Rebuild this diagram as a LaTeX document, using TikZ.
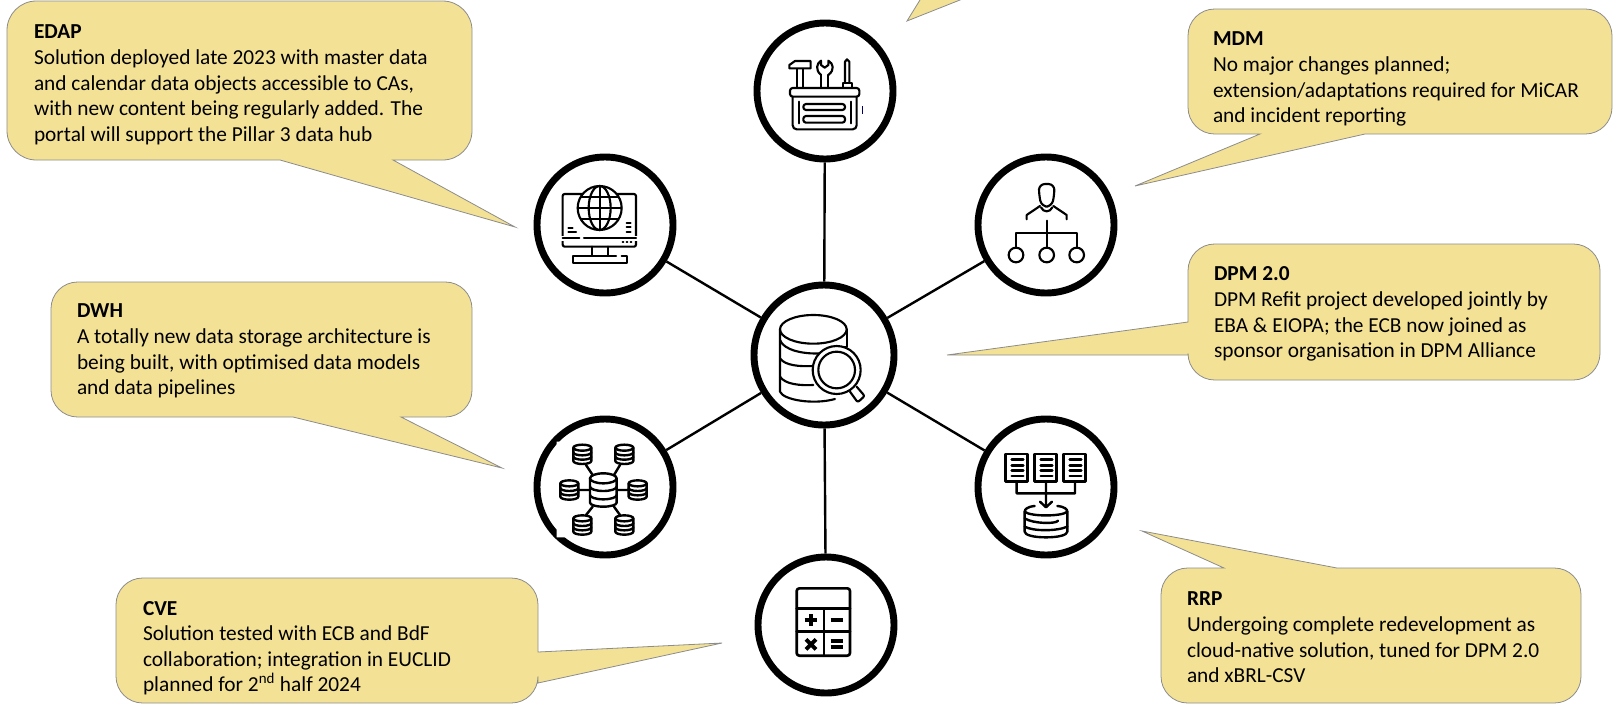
\documentclass[tikz,border=0pt]{standalone}
\usepackage{fontspec}
\setmainfont{Carlito}
\tikzset{
  callout/.style={fill=calloutfill,draw=calloutedge,line width=.6pt},
  note/.style={anchor=north west,inner sep=0pt,outer sep=0pt,align=left,font=\fontsize{16}{19.2}\selectfont,text=black},
  ring/.style={circle,draw=black,fill=white,line width=5.2pt,minimum size=102pt,inner sep=0pt},
  hubring/.style={ring,minimum size=105pt},
  spoke/.style={draw=black,line width=1.8pt},
  ico/.style={draw=black,line width=1.6pt,line cap=round,line join=round},
  icothick/.style={draw=black,line width=1.8pt,line cap=round,line join=round},
  icofat/.style={draw=black,line width=3pt,line cap=butt},
}
\definecolor{calloutfill}{HTML}{F3E196}
\definecolor{calloutedge}{HTML}{8C8C8C}
\newcommand{\minicyl}[2]{%
  \begin{scope}[shift={(#1,#2)}]
    \draw[icothick,fill=white] (-27,-20) -- (-27,20) arc[start angle=180,end angle=0,x radius=27,y radius=9] -- (27,-20);
    \draw[icothick] (0,-20) ellipse[x radius=27,y radius=9];
    \draw[icothick] (-27,-6) arc[start angle=180,end angle=0,x radius=27,y radius=9];
    \draw[icothick] (-27,7) arc[start angle=180,end angle=0,x radius=27,y radius=9];
  \end{scope}}
\begin{document}
\begin{tikzpicture}[x=.75pt,y=-.75pt]
\useasboundingbox (0,0) rectangle (1613,704);
% callouts
\draw[callout] (907,21) -- (921.2,-2) -- (965,-2) -- cycle;
\draw[callout] (280,160) [rounded corners=22pt] -- (7,160) -- (7,1) -- (472,1) -- (472,160) [sharp corners] -- (393,160) -- (515,227) -- cycle;
\draw[callout] (1260,134) [rounded corners=20pt] -- (1188,134) -- (1188,9) -- (1612,9) -- (1612,134) [sharp corners] -- (1365,134) -- (1135,186) -- cycle;
\draw[callout] (1188,322) [rounded corners=20pt] -- (1188,244) -- (1600,244) -- (1600,380) -- (1188,380) [sharp corners] -- (1188,355) -- (947,355) -- cycle;
\draw[callout] (293,417) [rounded corners=20pt] -- (51,417) -- (51,282) -- (472,282) -- (472,417) [sharp corners] -- (401,417) -- (502,468) -- cycle;
\draw[callout] (538,652) [rounded corners=20pt] -- (538,578) -- (116,578) -- (116,703) -- (538,703) [sharp corners] -- (538,683) -- (722,643) -- cycle;
\draw[callout] (1224,568) [rounded corners=20pt] -- (1161,568) -- (1161,703) -- (1581,703) -- (1581,568) [sharp corners] -- (1337,568) -- (1142,531) -- cycle;
% texts
\node[note] (edap) at (34,25) {\textbf{EDAP}\\Solution deployed late 2023 with master data\\and calendar data objects accessible to CAs,\\with new content being regularly added. The\\portal will support the Pillar 3 data hub};
\node[note] (mdm) at (1213,32) {\textbf{MDM}\\No major changes planned;\\extension/adaptations required for MiCAR\\and incident reporting};
\node[note] (dpm) at (1214,267) {\textbf{DPM 2.0}\\DPM Refit project developed jointly by\\EBA \& EIOPA; the ECB now joined as\\sponsor organisation in DPM Alliance};
\node[note] (dwh) at (77,304) {\textbf{DWH}\\A totally new data storage architecture is\\being built, with optimised data models\\and data pipelines};
\node[note] (cve) at (143,601) {\textbf{CVE}\\Solution tested with ECB and BdF\\collaboration; integration in EUCLID\\planned for 2\textsuperscript{nd} half 2024};
\node[note] (rrp) at (1187,592) {\textbf{RRP}\\Undergoing complete redevelopment as\\cloud-native solution, tuned for DPM 2.0\\and xBRL-CSV};
% rings
\node[hubring] (hub) at (824,355) {};
\node[ring] (tools) at (825,91) {};
\node[ring] (portal) at (605,225) {};
\node[ring] (master) at (1046,225) {};
\node[ring] (store) at (605,487) {};
\node[ring] (report) at (1046,487) {};
\node[ring] (calc) at (826,625) {};
\draw[spoke] (hub) -- (tools);
\draw[spoke] (hub) -- (portal);
\draw[spoke] (hub) -- (master);
\draw[spoke] (hub) -- (store);
\draw[spoke] (hub) -- (report);
\draw[spoke] (hub) -- (calc);
% tools icon
\begin{scope}[shift={(720,0)},x=.25pt,y=-.25pt]
  \draw[ico] (208,205) -- (208,195) -- (225,183) -- (272,183) -- (272,205) -- cycle;
  \draw[ico] (230,207) -- (230,262) (250,207) -- (250,262);
  \draw[ico] (303,225) -- (303,262) (325,225) -- (325,262);
  \draw[ico] (303,225) .. controls (285,210) and (290,190) .. (303,182) -- (303,195) -- (314,203) -- (325,195) -- (325,182) .. controls (340,190) and (345,210) .. (325,225);
  \draw[ico] (375,245) -- (375,185) -- (381,178) -- (388,185) -- (388,245);
  \draw[ico] (368,260) -- (368,250) -- (395,250) -- (395,260);
  \draw[ico,rounded corners=2pt] (210,264) rectangle (418,290);
  \draw[ico,rounded corners=3pt] (218,290) -- (218,388) -- (410,388) -- (410,290);
  \draw[ico] (236,305) -- (236,370) (392,305) -- (392,370);
  \draw[ico,rounded corners=2pt] (250,312) rectangle (375,330);
  \draw[ico,rounded corners=2pt] (250,348) rectangle (375,368);
  \draw[draw=black!60!blue,line width=.5pt] (428,318) -- (428,342);
\end{scope}
% portal icon
\begin{scope}[shift={(510,150)},x=.25pt,y=-.25pt]
  \draw[ico,rounded corners=1.5pt] (158,132) rectangle (378,290);
  \draw[ico,fill=white] (269,174) circle[radius=66];
  \draw[ico] (269,174) ellipse[x radius=33,y radius=66];
  \draw[ico] (269,108) -- (269,240);
  \draw[ico] (203,174) -- (335,174) (214,140) -- (324,140) (214,208) -- (324,208);
  \draw[ico,fill=white,draw=none] (150,258) rectangle (385,272);
  \draw[ico] (158,265) -- (208,265) (222,265) -- (378,265);
  \draw[ico] (338,277) -- (340,277) (350,277) -- (352,277) (362,277) -- (364,277);
  \draw[ico] (175,233) -- (188,233) (175,245) -- (198,245);
  \draw[ico] (350,220) -- (362,220) (350,232) -- (362,232) (350,245) -- (362,245);
  \draw[ico] (245,290) -- (245,318) (295,290) -- (295,318);
  \draw[ico] (318,318) -- (188,318) -- (188,340) -- (352,340) -- (352,318) -- (335,318);
\end{scope}
% master icon
\begin{scope}[shift={(940,150)},x=.25pt,y=-.25pt]
  \draw[ico,rounded corners=4.5pt] (297,135) -- (297,102) -- (343,102) -- (343,135) -- (335,170) -- (305,170) -- cycle;
  \draw[ico] (260,208) -- (260,195) -- (300,168);
  \draw[ico] (380,208) -- (380,195) -- (340,168);
  \draw[ico] (303,172) .. controls (310,188) and (330,188) .. (337,172);
  \draw[ico] (320,212) -- (320,293);
  \draw[ico] (228,293) -- (228,250) -- (410,250) -- (410,293);
  \draw[ico] (228,315) circle[radius=22] (320,315) circle[radius=22] (410,315) circle[radius=22];
\end{scope}
% hub icon
\begin{scope}[shift={(720,295)},x=.25pt,y=-.25pt]
  \draw[ico] (280,103) ellipse[x radius=100,y radius=43];
  \draw[ico] (180,103) -- (180,290) .. controls (190,315) and (280,330) .. (345,312);
  \draw[ico] (380,103) -- (380,155);
  \draw[ico] (180,135) .. controls (190,165) and (250,178) .. (300,175);
  \draw[ico] (362,155) -- (380,155);
  \draw[ico] (180,190) .. controls (195,212) and (240,215) .. (280,213);
  \draw[ico] (180,245) .. controls (195,268) and (240,272) .. (280,270);
  \draw[ico,fill=white] (350,225) circle[radius=72];
  \draw[ico] (350,225) circle[radius=55];
  \draw[ico,rounded corners=1.5pt] (390,290) -- (413,322) -- (434,303) -- (410,275);
\end{scope}
% store icon
\begin{scope}[shift={(510,400)},x=.25pt,y=-.25pt]
  \fill[white] (140,125) rectangle (165,150) (140,390) rectangle (165,412);
  \draw[icothick] (228,195) -- (248,225) (330,195) -- (312,225) (205,270) -- (240,270) (320,270) -- (355,270) (228,345) -- (248,320) (330,345) -- (312,320);
  \minicyl{217}{163}\minicyl{343}{163}\minicyl{178}{270}\minicyl{383}{270}\minicyl{217}{375}\minicyl{343}{375}
  \begin{scope}[shift={(280,240)}]
    \draw[icothick,fill=white] (-40,-5) -- (-40,68) arc[start angle=180,end angle=0,x radius=40,y radius=12] -- (40,-5);
    \draw[icothick] (0,-5) ellipse[x radius=40,y radius=15];
    \draw[icothick] (-40,20) arc[start angle=180,end angle=0,x radius=40,y radius=13];
    \draw[icothick] (-40,45) arc[start angle=180,end angle=0,x radius=40,y radius=13];
  \end{scope}
\end{scope}
% report icon
\begin{scope}[shift={(940,400)},x=.25pt,y=-.25pt]
  \foreach \dx in {0,87,174}{
    \begin{scope}[shift={(\dx,0)}]
      \draw[icothick] (197,162) rectangle (263,245);
      \draw[icothick] (215,178) -- (250,178) (215,197) -- (250,197) (215,212) -- (250,212) (215,228) -- (250,228);
    \end{scope}}
  \draw[icothick] (230,245) -- (230,280) -- (405,280) -- (405,245) (318,245) -- (318,320) (300,305) -- (318,322) -- (336,305);
  \draw[icothick] (284,318) .. controls (262,320) and (254,328) .. (254,335) -- (254,395) .. controls (254,405) and (280,412) .. (318,412) .. controls (356,412) and (382,405) .. (382,395) -- (382,335) .. controls (382,328) and (374,320) .. (352,318);
  \draw[icothick] (254,335) .. controls (270,350) and (366,350) .. (382,335);
  \draw[icothick] (254,355) .. controls (280,372) and (350,372) .. (354,362);
  \draw[icothick] (254,380) .. controls (280,394) and (350,394) .. (382,380);
\end{scope}
% calc icon
\begin{scope}[shift={(720,530)},x=.25pt,y=-.25pt]
  \draw[ico,rounded corners=2pt,line width=2pt] (230,175) rectangle (390,377);
  \draw[ico,line width=2pt] (230,235) -- (390,235) (230,305) -- (390,305) (312,235) -- (312,377);
  \draw[icofat] (254,270) -- (290,270) (272,253) -- (272,288);
  \draw[icofat] (332,270) -- (368,270);
  \draw[icofat] (258,328) -- (288,358) (288,328) -- (258,358);
  \draw[icofat] (332,334) -- (368,334) (332,350) -- (368,350);
\end{scope}
\end{tikzpicture}
\end{document}
